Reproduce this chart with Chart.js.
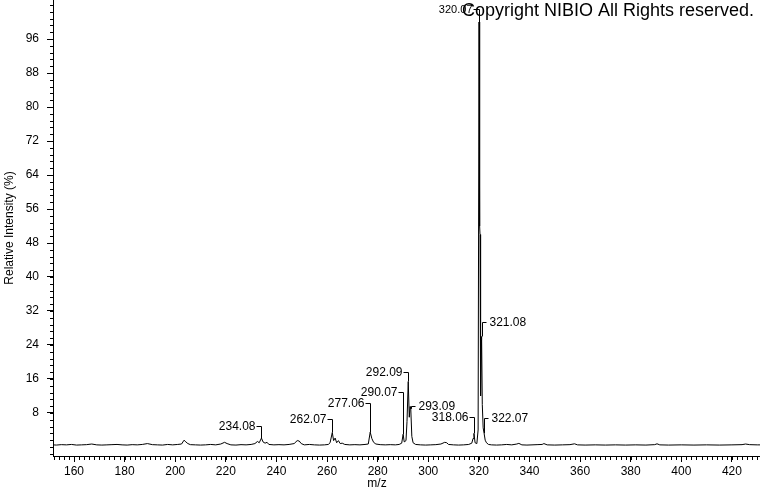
<!DOCTYPE html>
<html>
<head>
<meta charset="utf-8">
<script src="https://cdn.jsdelivr.net/npm/chart.js@4.4.1/dist/chart.umd.min.js"></script>
<style>
html,body{margin:0;padding:0;background:#fff;}
#wrap{position:relative;width:760px;height:492px;}
canvas{display:block;}
</style>
</head>
<body>
<div id="wrap"><canvas id="c" width="760" height="492"></canvas></div>
<script>
// ---- data ----
const spectrumMz = [151.7,153,155,157,159,161,163,165,167,169,171,173,175,177,179,181,183,185,187,189,191,193,195,197,199,201,202.5,203.5,204.2,205,206,208,210,212,214,216,218,219.5,220.5,222,224,226,228,230,231.5,232.5,233.2,234.08,234.7,235.5,236.3,237,239,241,243,245,247,248.2,249,249.8,251,253,255,257,259,260.5,261.2,262.07,262.6,263.2,263.8,264.5,265.2,266,267,269,271,273,275,276.3,277.06,277.7,278.4,279.3,281,283,285,287,288.5,289.5,290.07,290.5,291.2,291.6,292.09,292.5,292.8,293.09,293.5,294,295,297,299,301,303,305,306.5,307.3,308,310,312,314,316,317.2,317.7,318.06,318.5,319.2,319.7,320.07,320.3,320.45,320.6,320.75,321.08,321.35,321.7,322.07,322.5,323,323.8,325,327,329,331,333,335,335.8,337,339,341,343,345,345.7,347,350,353,356,357.8,359,362,366,370,374,378,382,386,389.5,390.4,391.5,395,400,405,410,415,420,424,425.4,427,430,431.1];
const spectrumIntensity = [0.5,0.45,0.55,0.5,0.6,0.45,0.5,0.55,0.7,0.5,0.45,0.5,0.55,0.6,0.5,0.45,0.55,0.5,0.6,0.8,0.55,0.5,0.45,0.6,0.5,0.6,0.7,1.6,1.2,0.8,0.55,0.5,0.45,0.5,0.6,0.5,0.7,1.1,0.8,0.5,0.45,0.55,0.5,0.6,0.8,1.3,1.0,2.1,1.2,0.9,1.1,0.6,0.5,0.55,0.5,0.6,0.8,1.5,1.4,0.8,0.5,0.6,0.5,0.45,0.5,0.6,1.0,3.4,1.5,2.1,1.0,1.5,0.8,0.9,0.6,0.5,0.55,0.5,0.6,0.7,3.5,2.0,1.1,0.7,0.55,0.5,0.55,0.5,0.6,0.9,3.0,1.2,1.5,6.0,15.4,7.0,9.5,9.0,2.5,1.0,0.6,0.5,0.45,0.5,0.55,0.7,1.1,1.0,0.6,0.5,0.45,0.5,0.6,0.9,2.0,3.2,1.0,0.8,4.0,100,52,50,18,12,26,10,4.5,3.2,1.6,1.0,0.6,0.5,0.45,0.5,0.6,0.5,0.7,0.85,0.5,0.45,0.5,0.55,0.6,0.8,0.5,0.45,0.5,0.55,0.75,0.5,0.45,0.5,0.45,0.5,0.45,0.5,0.45,0.55,0.75,0.5,0.45,0.5,0.45,0.5,0.45,0.5,0.55,0.7,0.55,0.5,0.5];
const peakLabelMz = [234.08,262.07,277.06,290.07,292.09,293.09,318.06,320.07,321.08,322.07];
const peakLabelText = ['234.08','262.07','277.06','290.07','292.09','293.09','318.06','320.07','321.08','322.07'];
const xTickValues = [160,180,200,220,240,260,280,300,320,340,360,380,400,420];
const yTickValues = [8,16,24,32,40,48,56,64,72,80,88,96];
const xTitle = 'm/z';
const yTitle = 'Relative Intensity (%)';
const copyrightText = 'Copyright NIBIO All Rights reserved.';

// ---- layout / style (not data) ----
const FONT = 'Liberation Sans, Arial, sans-serif';
const labelLayout = {
  // level in axis units where the label bracket turns, side of the text, horizontal bracket length, font size
  levels: [5.0,6.6,10.35,12.9,17.6,9.6,7.05,103,29.4,6.8],
  sides:  ['L','L','L','L','L','R','L','L','R','R'],
  hlen:   [5,5,5,5,5,4,5,6,4,4],
  size:   [12,12,12,12,12,12,12,11,12,12]
};

const points = spectrumMz.map((m,i)=>({x:m, y:spectrumIntensity[i]}));

const extras = {
  id: 'extras',
  afterDraw(chart) {
    const {ctx, scales:{x, y}} = chart;
    ctx.save();
    ctx.strokeStyle = '#000';
    ctx.lineWidth = 1;
    // minor ticks
    ctx.beginPath();
    for (let v = -1.6; v <= y.max + 1e-6; v += 1.6) {
      const py = Math.round(y.getPixelForValue(v)) + 0.5;
      ctx.moveTo(y.right - 3, py); ctx.lineTo(y.right, py);
    }
    for (let v = 152; v <= x.max; v += 2) {
      const px = Math.round(x.getPixelForValue(v)) + 0.5;
      ctx.moveTo(px, x.top); ctx.lineTo(px, x.top + 4);
    }
    ctx.stroke();
    // peak labels
    ctx.fillStyle = '#000';
    ctx.textBaseline = 'middle';
    peakLabelMz.forEach((mz, i) => {
      const idx = spectrumMz.indexOf(mz);
      const top = spectrumIntensity[idx];
      const px = Math.round(x.getPixelForValue(mz)) + 0.5;
      const py = y.getPixelForValue(top);
      const ly = Math.round(y.getPixelForValue(labelLayout.levels[i])) + 0.5;
      const h = labelLayout.hlen[i];
      const left = labelLayout.sides[i] === 'L';
      ctx.beginPath();
      ctx.moveTo(px, py); ctx.lineTo(px, ly);
      ctx.lineTo(left ? px - h : px + h, ly);
      ctx.stroke();
      ctx.font = labelLayout.size[i] + 'px ' + FONT;
      ctx.textAlign = left ? 'right' : 'left';
      ctx.fillText(peakLabelText[i], left ? px - h - 1 : px + h + 3, ly);
    });
    // x title
    ctx.font = '12px ' + FONT;
    ctx.textAlign = 'center';
    ctx.textBaseline = 'middle';
    ctx.fillText(xTitle, 377, 484);
    // copyright
    ctx.font = '18px ' + FONT;
    ctx.textAlign = 'left';
    ctx.textBaseline = 'alphabetic';
    ctx.fillText(copyrightText, 462, 16);
    ctx.restore();
  }
};

new Chart(document.getElementById('c'), {
  type: 'scatter',
  data: { datasets: [{
    data: points, showLine: true, borderColor: '#000', borderWidth: 1,
    pointRadius: 0, tension: 0, fill: false
  }]},
  options: {
    animation: false, responsive: false, maintainAspectRatio: false,
    layout: { padding: 0 },
    plugins: { legend: {display:false}, tooltip: {enabled:false}, title: {display:false} },
    scales: {
      x: {
        type: 'linear', min: 151.7, max: 431.1,
        afterBuildTicks: a => { a.ticks = xTickValues.map(v => ({value: v})); },
        ticks: { font: {family: FONT, size: 12}, color: '#000', padding: 2, maxRotation: 0, autoSkip: false },
        grid: { drawOnChartArea: false, drawTicks: true, tickLength: 6, tickColor: '#000' },
        border: { display: true, color: '#000', width: 1 },
        afterFit: s => { s.height = 36; s.paddingLeft = 0; s.paddingRight = 0; }
      },
      y: {
        type: 'linear', min: -2.12, max: 105.18,
        afterBuildTicks: a => { a.ticks = yTickValues.map(v => ({value: v})); },
        ticks: { font: {family: FONT, size: 12}, color: '#000', padding: 8 },
        grid: { drawOnChartArea: false, drawTicks: true, tickLength: 6, tickColor: '#000' },
        border: { display: true, color: '#000', width: 1 },
        title: { display: true, text: yTitle, color: '#000', font: {family: FONT, size: 12}, padding: {top: 2, bottom: 0} },
        afterFit: s => { s.width = 53; s.paddingTop = 0; s.paddingBottom = 0; }
      }
    }
  },
  plugins: [extras]
});
</script>
</body>
</html>
